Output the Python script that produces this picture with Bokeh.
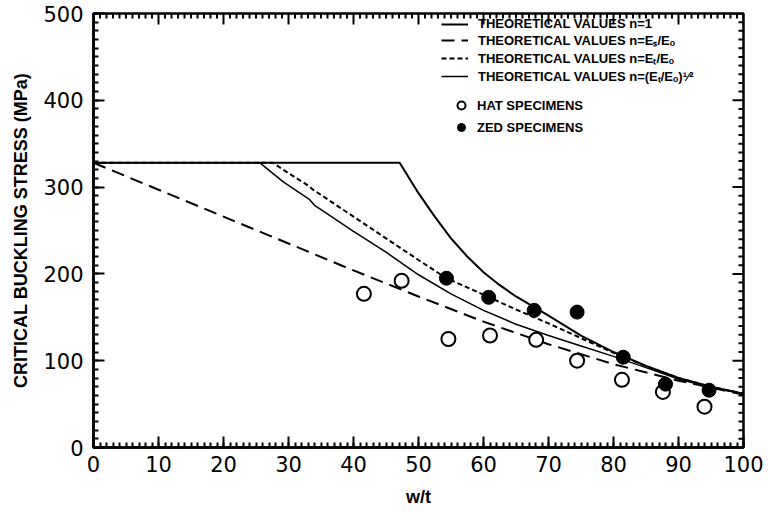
import numpy as np
from bokeh.plotting import figure
from bokeh.models import (Range1d, LinearAxis, SingleIntervalTicker, Legend, LegendItem)
from bokeh.embed import file_html
from bokeh.resources import INLINE

# ---- data ----
n1_x = [0, 47.1, 50, 52.5, 55, 57.5, 60, 62.5, 65, 70, 75, 80, 85, 90, 95, 100]
n1_y = [328, 328, 293, 266, 241, 220, 202, 187, 174, 152, 129, 110, 94, 80, 70, 62]

sec_x = [0, 10, 20, 30, 40, 50, 60, 70, 80, 90, 100]
sec_y = [328, 297, 266, 235, 204, 174, 145, 119, 96, 77, 61]

tan_x = [0, 27.6, 30, 33.0, 33.6, 35, 40, 45, 50, 54.3, 60, 65, 70, 75, 80, 85, 90, 95, 100]
tan_y = [328, 328, 316, 302, 298, 291, 266, 241, 216, 195, 176, 159, 143, 126, 109, 94, 80, 70, 62]

sqrt_x = [0, 25.6, 29.2, 33.2, 34.0, 35, 40, 45, 50, 55, 60, 65, 70, 75, 80, 85, 90, 95, 100]
sqrt_y = [328, 328, 306, 286, 279, 274, 249, 225, 199, 177, 158, 142, 129, 117, 105, 92, 79, 69, 62]

hat_x = [41.6, 47.4, 54.6, 61.0, 68.1, 74.4, 81.3, 87.6, 94.0]
hat_y = [177, 192, 125, 129, 124, 100, 78, 64, 47]

zed_x = [54.3, 60.8, 67.8, 74.4, 81.5, 88.0, 94.7]
zed_y = [195, 173, 158, 156, 104, 73, 66]

x_label = "w/t"
y_label = "CRITICAL BUCKLING STRESS (MPa)"
legend_labels = [
    "THEORETICAL VALUES n=1",
    "THEORETICAL VALUES n=E\u209b/E\u2092",
    "THEORETICAL VALUES n=E\u209c/E\u2092",
    "THEORETICAL VALUES n=(E\u209c/E\u2092)\u00b9\u2044\u00b2",
    "HAT SPECIMENS",
    "ZED SPECIMENS",
]

X_MIN, X_MAX, X_MAJOR, X_MINOR = 0, 100, 10, 1
Y_MIN, Y_MAX, Y_MAJOR, Y_MINOR = 0, 500, 100, 10

TICK_FONT = "DejaVu Sans"
LABEL_FONT = "Liberation Sans"
MAJOR_LEN, MINOR_LEN, TICK_W = 11, 5, 2

p = figure(width=768, height=520, x_range=Range1d(X_MIN, X_MAX), y_range=Range1d(Y_MIN, Y_MAX),
           output_backend="svg", toolbar_location=None,
           x_axis_type=None, y_axis_type=None,
           min_border_left=93, min_border_right=25, min_border_top=13, min_border_bottom=73)
p.outline_line_color = "black"
p.outline_line_width = 2.5
p.background_fill_color = "white"
p.border_fill_color = "white"


def style_axis(ax):
    ax.axis_line_color = "black"
    ax.axis_line_width = 2.5
    ax.major_tick_in = MAJOR_LEN
    ax.major_tick_out = 0
    ax.minor_tick_in = MINOR_LEN
    ax.minor_tick_out = 0
    ax.major_tick_line_color = "black"
    ax.minor_tick_line_color = "black"
    ax.major_tick_line_width = TICK_W
    ax.minor_tick_line_width = TICK_W
    ax.major_label_text_font = TICK_FONT
    ax.major_label_text_font_size = "21px"
    ax.major_label_text_color = "black"
    ax.axis_label_text_font = LABEL_FONT
    ax.axis_label_text_font_style = "bold"
    ax.axis_label_text_font_size = "18px"
    ax.axis_label_text_color = "black"


xb = LinearAxis(ticker=SingleIntervalTicker(interval=X_MAJOR, num_minor_ticks=X_MAJOR // X_MINOR),
                axis_label=x_label)
style_axis(xb)
xb.major_label_standoff = 8
xb.axis_label_standoff = 12
yl = LinearAxis(ticker=SingleIntervalTicker(interval=Y_MAJOR, num_minor_ticks=Y_MAJOR // Y_MINOR),
                axis_label=y_label)
style_axis(yl)
yl.major_label_standoff = 10
yl.axis_label_standoff = 9
p.add_layout(xb, "below")
p.add_layout(yl, "left")

# ---- mirrored inward ticks on the top and right sides ----
x_major = np.arange(X_MIN, X_MAX + X_MAJOR, X_MAJOR)
x_minor = np.array([v for v in np.arange(X_MIN, X_MAX + X_MINOR, X_MINOR) if v % X_MAJOR != 0])
y_major = np.arange(Y_MIN, Y_MAX + Y_MAJOR, Y_MAJOR)
y_minor = np.array([v for v in np.arange(Y_MIN, Y_MAX + Y_MINOR, Y_MINOR) if v % Y_MAJOR != 0])

for ticks, ln in [(x_major, MAJOR_LEN), (x_minor, MINOR_LEN)]:
    p.ray(x=ticks, y=Y_MAX, length=ln, angle=-np.pi / 2, length_units="screen",
          line_color="black", line_width=TICK_W)
for ticks, ln in [(y_major, MAJOR_LEN), (y_minor, MINOR_LEN)]:
    p.ray(x=X_MAX, y=ticks, length=ln, angle=np.pi, length_units="screen",
          line_color="black", line_width=TICK_W)

r1 = p.line(n1_x, n1_y, line_color="black", line_width=2)
r2 = p.line(sec_x, sec_y, line_color="black", line_width=2, line_dash="13 7")
r3 = p.line(tan_x, tan_y, line_color="black", line_width=2, line_dash="5 3")
r4 = p.line(sqrt_x, sqrt_y, line_color="black", line_width=1.5)
r5 = p.scatter(hat_x, hat_y, marker="circle", size=14, fill_color="white",
               line_color="black", line_width=2)
r6 = p.scatter(zed_x, zed_y, marker="circle", size=14, fill_color="black",
               line_color="black", line_width=1)

leg_a = Legend(items=[LegendItem(label=legend_labels[i], renderers=[r])
                      for i, r in enumerate([r1, r2, r3, r4])],
               location=(348, 362), glyph_width=27, glyph_height=14, label_height=14,
               label_standoff=10, spacing=0, padding=0, margin=0,
               border_line_alpha=0, background_fill_alpha=0,
               label_text_font=LABEL_FONT, label_text_font_style="bold",
               label_text_font_size="13px", label_text_color="black")
leg_b = Legend(items=[LegendItem(label=legend_labels[4], renderers=[r5]),
                      LegendItem(label=legend_labels[5], renderers=[r6])],
               location=(358, 309), glyph_width=20, glyph_height=22, label_height=22,
               label_standoff=6, spacing=0, padding=0, margin=0,
               border_line_alpha=0, background_fill_alpha=0,
               label_text_font=LABEL_FONT, label_text_font_style="bold",
               label_text_font_size="13px", label_text_color="black")
p.add_layout(leg_a, "center")
p.add_layout(leg_b, "center")

open("out.html", "w").write(file_html(p, INLINE))
